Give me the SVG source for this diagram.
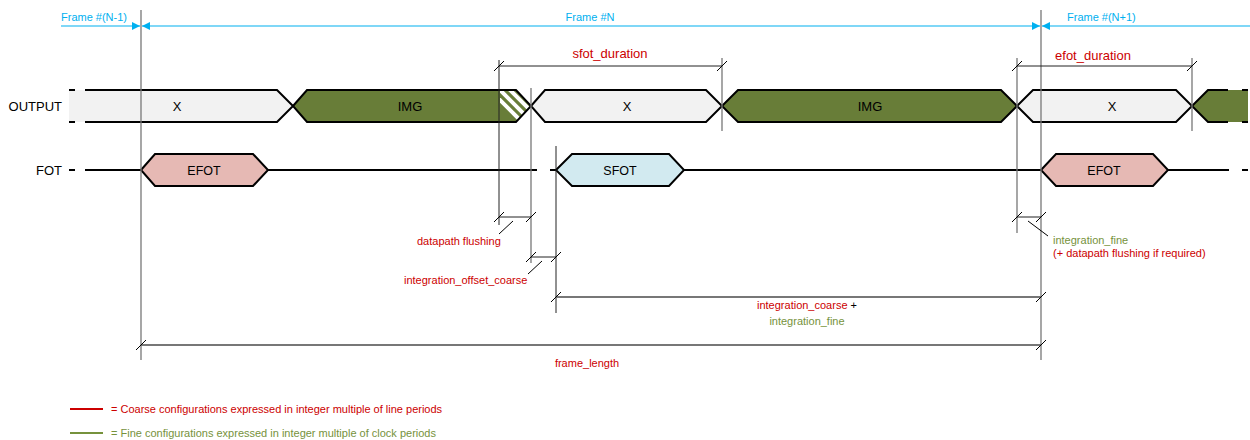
<svg xmlns="http://www.w3.org/2000/svg" width="1250" height="440" viewBox="0 0 1250 440">
<style>
text{font-family:"Liberation Sans",Arial,sans-serif;}
.lbl{font-size:13px;fill:#000;}
.sm{font-size:11px;}
.red{fill:#cc0000;}
.grn{fill:#76923c;}
.blu{fill:#00b0f0;font-size:11px;}
.ext{stroke:#777;stroke-width:1.3;fill:none;}
.extd{stroke:#222;stroke-width:1;fill:none;}
.dim{stroke:#222;stroke-width:1;fill:none;}
.dimg{stroke:#777;stroke-width:2;fill:none;}
.tick{stroke:#000;stroke-width:1;}
.frm{stroke:#00b0f0;stroke-width:1.2;fill:none;}
.wire{stroke:#000;stroke-width:2;fill:none;}
.sh{stroke:#000;stroke-width:2;}
.gray{fill:#f2f2f2;}
.img{fill:#687d38;}
.pink{fill:#e6b9b4;}
.cyan{fill:#d2eaf0;}
</style>
<defs>
<marker id="arr" viewBox="0 0 8 8" refX="8" refY="4" markerWidth="8" markerHeight="8" markerUnits="userSpaceOnUse" orient="auto-start-reverse">
<path d="M0,0 L8,4 L0,8 z" fill="#00b0f0"/>
</marker>
<clipPath id="hclip"><path d="M500,90 L516,90 L531,106 L516,122 L500,122 z"/></clipPath>
</defs>

<!-- frame markers -->
<g id="frames">
<line class="frm" x1="61" y1="26" x2="140" y2="26" marker-end="url(#arr)"/>
<line class="frm" x1="142" y1="26" x2="1040" y2="26" marker-start="url(#arr)" marker-end="url(#arr)"/>
<line class="frm" x1="1042" y1="26" x2="1250" y2="26" marker-start="url(#arr)"/>
<text class="blu" x="61" y="21">Frame #(N-1)</text>
<text class="blu" x="590" y="21" text-anchor="middle">Frame #N</text>
<text class="blu" x="1067" y="21">Frame #(N+1)</text>
</g>

<!-- row labels -->
<g id="labels">
<text class="lbl" x="62" y="111" text-anchor="end">OUTPUT</text>
<text class="lbl" x="62" y="175" text-anchor="end">FOT</text>
</g>

<!-- OUTPUT row -->
<g id="out-x1">
<path class="gray" d="M69,90 L277,90 L293,106 L277,122 L69,122 z"/>
<path class="wire" d="M85,90 L277,90 L293,106 L277,122 L85,122"/>
<line class="wire" x1="69" y1="90" x2="75" y2="90"/>
<line class="wire" x1="69" y1="122" x2="75" y2="122"/>
<text class="lbl" x="177" y="111" text-anchor="middle">X</text>
</g>
<g id="out-img1">
<path class="img" d="M293,106 L307,90 L516,90 L531,106 L516,122 L307,122 z"/>
<g clip-path="url(#hclip)" stroke="#fff" stroke-width="4">
<line x1="496" y1="86" x2="536" y2="126"/>
<line x1="506" y1="86" x2="546" y2="126"/>
<line x1="486" y1="86" x2="526" y2="126"/>
</g>
<path class="wire" d="M293,106 L307,90 L516,90 L531,106 L516,122 L307,122 z"/>
<text class="lbl" x="410" y="111" text-anchor="middle">IMG</text>
</g>
<g id="out-x2">
<path class="sh gray" d="M531,106 L545,90 L706,90 L722,106 L706,122 L545,122 z"/>
<text class="lbl" x="627" y="111" text-anchor="middle">X</text>
</g>
<g id="out-img2">
<path class="sh img" d="M722,106 L738,90 L1001,90 L1017,106 L1001,122 L738,122 z"/>
<text class="lbl" x="870" y="111" text-anchor="middle">IMG</text>
</g>
<g id="out-x3">
<path class="sh gray" d="M1017,106 L1033,90 L1176,90 L1192,106 L1176,122 L1033,122 z"/>
<text class="lbl" x="1112" y="111" text-anchor="middle">X</text>
</g>
<g id="out-img3">
<path class="img" d="M1192,106 L1208,90 L1248,90 L1248,122 L1208,122 z"/>
<path class="wire" d="M1228,90 L1208,90 L1192,106 L1208,122 L1228,122"/>
<line class="wire" x1="1242" y1="90" x2="1248" y2="90"/>
<line class="wire" x1="1242" y1="122" x2="1248" y2="122"/>
</g>

<!-- FOT row -->
<g id="fot-wire">
<line class="wire" x1="69" y1="170" x2="75" y2="170"/>
<line class="wire" x1="85" y1="170" x2="141" y2="170"/>
<line class="wire" x1="268" y1="170" x2="537" y2="170"/>
<line class="wire" x1="550" y1="170" x2="556" y2="170"/>
<line class="wire" x1="684" y1="170" x2="1041" y2="170"/>
<line class="wire" x1="1168" y1="170" x2="1229" y2="170"/>
<line class="wire" x1="1242" y1="170" x2="1248" y2="170"/>
</g>
<g id="efot1">
<path class="sh pink" d="M141,170 L155,154 L253,154 L268,170 L253,186 L155,186 z"/>
<text class="lbl" x="204" y="175" text-anchor="middle" style="font-size:12.5px">EFOT</text>
</g>
<g id="sfot">
<path class="sh cyan" d="M556,170 L572,154 L669,154 L684,170 L669,186 L572,186 z"/>
<text class="lbl" x="620" y="175" text-anchor="middle" style="font-size:12.5px">SFOT</text>
</g>
<g id="efot2">
<path class="sh pink" d="M1041,170 L1056,154 L1153,154 L1168,170 L1153,186 L1056,186 z"/>
<text class="lbl" x="1104" y="175" text-anchor="middle" style="font-size:12.5px">EFOT</text>
</g>

<!-- connectors: extension and dimension lines -->
<g id="connectors">
<line class="ext" x1="141" y1="10" x2="141" y2="360"/>
<line class="ext" x1="1041" y1="10" x2="1041" y2="360"/>
<line class="extd" x1="499" y1="60" x2="499" y2="225"/>
<line class="ext" x1="531" y1="88" x2="531" y2="263"/>
<line class="extd" x1="556" y1="146" x2="556" y2="313"/>
<line class="ext" x1="722" y1="58" x2="722" y2="131"/>
<line class="ext" x1="1017" y1="58" x2="1017" y2="233"/>
<line class="ext" x1="1192" y1="58" x2="1192" y2="131"/>

<line class="dim" x1="499" y1="66" x2="722" y2="66"/>
<line class="tick" x1="494" y1="71" x2="504" y2="61"/>
<line class="tick" x1="717" y1="71" x2="727" y2="61"/>

<line class="dim" x1="1017" y1="66" x2="1192" y2="66"/>
<line class="tick" x1="1012" y1="71" x2="1022" y2="61"/>
<line class="tick" x1="1187" y1="71" x2="1197" y2="61"/>

<line class="dim" x1="499" y1="217" x2="531" y2="217"/>
<line class="tick" x1="494" y1="222" x2="504" y2="212"/>
<line class="tick" x1="526" y1="222" x2="536" y2="212"/>
<line class="tick" x1="513" y1="221" x2="499" y2="234"/>

<line class="dim" x1="531" y1="257" x2="556" y2="257"/>
<line class="tick" x1="526" y1="262" x2="536" y2="252"/>
<line class="tick" x1="551" y1="262" x2="561" y2="252"/>
<line class="tick" x1="542" y1="261" x2="528" y2="274"/>

<line class="dim" x1="1017" y1="217" x2="1041" y2="217"/>
<line class="tick" x1="1012" y1="222" x2="1022" y2="212"/>
<line class="tick" x1="1036" y1="222" x2="1046" y2="212"/>
<line class="tick" x1="1028" y1="221" x2="1048" y2="236"/>

<line class="dimg" x1="556" y1="297" x2="1041" y2="297"/>
<line class="tick" x1="551" y1="302" x2="561" y2="292"/>
<line class="tick" x1="1036" y1="302" x2="1046" y2="292"/>

<line class="dimg" x1="141" y1="345" x2="1041" y2="345"/>
<line class="tick" x1="136" y1="350" x2="146" y2="340"/>
<line class="tick" x1="1036" y1="350" x2="1046" y2="340"/>
</g>

<!-- annotations -->
<g id="annotations">
<text class="red" x="610" y="58" text-anchor="middle" style="font-size:13px">sfot_duration</text>
<text class="red" x="1093" y="60" text-anchor="middle" style="font-size:13px">efot_duration</text>
<text class="red sm" x="417" y="245">datapath flushing</text>
<text class="red sm" x="404" y="284">integration_offset_coarse</text>
<text class="grn sm" x="1053" y="244">integration_fine</text>
<text class="red sm" x="1053" y="257">(+ datapath flushing if required)</text>
<text class="sm" x="807" y="309" text-anchor="middle"><tspan class="red">integration_coarse</tspan><tspan fill="#000"> +</tspan></text>
<text class="grn sm" x="807" y="325" text-anchor="middle">integration_fine</text>
<text class="red sm" x="587" y="367" text-anchor="middle">frame_length</text>
</g>

<!-- legend -->
<g id="legend">
<line x1="70" y1="409" x2="103" y2="409" stroke="#cc0000" stroke-width="2"/>
<text class="red sm" x="111" y="413">= Coarse configurations expressed in integer multiple of line periods</text>
<line x1="70" y1="433" x2="103" y2="433" stroke="#76923c" stroke-width="2"/>
<text class="grn sm" x="111" y="437">= Fine configurations expressed in integer multiple of clock periods</text>
</g>
</svg>
